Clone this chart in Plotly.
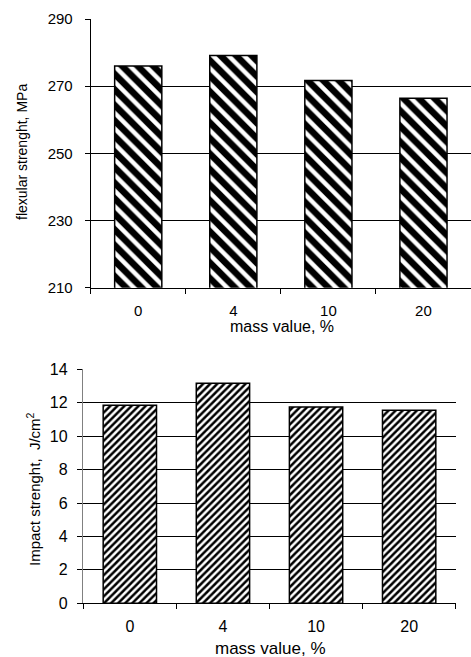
import plotly.graph_objects as go

W, H = 471, 657

categories = ["0", "4", "10", "20"]
flexural = [276.0, 279.1, 271.7, 266.4]
impact = [11.85, 13.16, 11.74, 11.55]
flex_ticks = [210, 230, 250, 270, 290]
impact_ticks = [0, 2, 4, 6, 8, 10, 12, 14]

FONT = "Liberation Sans, Arial, sans-serif"

def px_x(x):
    return x / W

def px_y(y):
    return 1 - y / H

fig = go.Figure()

fig.add_trace(go.Bar(
    x=categories, y=flexural, xaxis="x", yaxis="y", width=0.496,
    marker=dict(color="white", opacity=1, line=dict(color="black", width=1.5),
                pattern=dict(shape="\\", fgcolor="black", bgcolor="white",
                             fgopacity=1, size=11, solidity=0.6)),
    showlegend=False, hoverinfo="skip",
))
fig.add_trace(go.Bar(
    x=categories, y=impact, xaxis="x2", yaxis="y2", width=0.573,
    marker=dict(color="white", opacity=1, line=dict(color="black", width=1.5),
                pattern=dict(shape="/", fgcolor="black", bgcolor="white",
                             fgopacity=1, size=5, solidity=0.5)),
    showlegend=False, hoverinfo="skip",
))

common_x = dict(type="category", showgrid=False, showline=True, linecolor="black",
                linewidth=1, ticks="outside", tickson="boundaries", ticklen=5,
                tickcolor="black", fixedrange=True, automargin=False)

fig.update_layout(
    template="none",
    width=W, height=H,
    margin=dict(l=0, r=0, t=0, b=0, pad=0),
    paper_bgcolor="white", plot_bgcolor="white",
    font=dict(family=FONT, color="black"),
    xaxis=dict(domain=[px_x(90.7), 1.0], anchor="y", range=[-0.5, 3.5],
               tickfont=dict(size=15), ticklabelstandoff=9, **common_x),
    yaxis=dict(domain=[px_y(287.7), px_y(19)], anchor="x", range=[210, 290],
               tickvals=flex_ticks, showgrid=True, gridcolor="black", gridwidth=1,
               showline=True, linecolor="black", linewidth=1, automargin=False,
               ticks="outside", ticklen=5, tickcolor="black", fixedrange=True,
               tickfont=dict(size=15), ticklabelstandoff=9, zeroline=False),
    xaxis2=dict(domain=[px_x(83.3), px_x(455.7)], anchor="y2", range=[-0.5, 3.5],
                tickfont=dict(size=16), ticklabelstandoff=8, **common_x),
    yaxis2=dict(domain=[px_y(603.3), px_y(369.3)], anchor="x2", range=[0, 14],
                tickvals=impact_ticks, showgrid=True, gridcolor="black", gridwidth=1,
                showline=True, linecolor="#808080", linewidth=1.5, automargin=False,
                ticks="outside", ticklen=5, tickcolor="black", fixedrange=True,
                tickfont=dict(size=16), ticklabelstandoff=6, zeroline=False),
)

annotations = [
    dict(text="mass value, %", x=px_x(282), y=px_y(327), font=dict(size=16)),
    dict(text="flexular strenght, MPa", x=px_x(22), y=px_y(152), textangle=-90,
         font=dict(size=14)),
    dict(text="mass value, %", x=px_x(270), y=px_y(648), font=dict(size=17)),
    dict(text="Impact strenght,  J/cm<sup>2</sup>", x=px_x(33), y=px_y(489),
         textangle=-90, font=dict(size=15)),
]
for a in annotations:
    fig.add_annotation(xref="paper", yref="paper", showarrow=False,
                       xanchor="center", yanchor="middle", **a)

fig.write_html(
    "out.html",
    config={"displayModeBar": False, "staticPlot": True},
    post_script="document.body.style.margin='0';document.body.style.overflow='hidden';",
)
